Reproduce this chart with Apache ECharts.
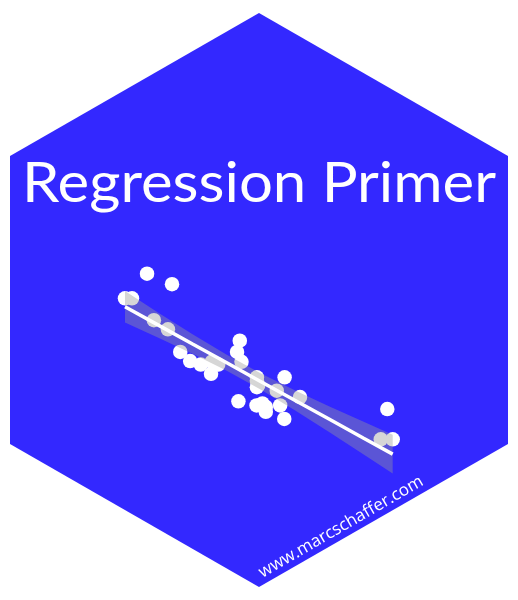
<!DOCTYPE html>
<html style="height: 100%">
<head>
    <meta charset="utf-8">
    <script src="https://cdn.jsdelivr.net/npm/echarts@6/dist/echarts.min.js"></script>
</head>
<body style="height: 100%; margin: 0; background-color: #fff;">
<div id="container" style="width: 518px; height: 600px;"></div>
<script type="text/javascript">
// mtcars: weight (1000 lbs) vs miles per gallon
var wt  = [2.620, 2.875, 2.320, 3.215, 3.440, 3.460, 3.570, 3.190, 3.150, 3.440, 3.440,
           4.070, 3.730, 3.780, 5.250, 5.424, 5.345, 2.200, 1.615, 1.835, 2.465, 3.520,
           3.435, 3.840, 3.845, 1.935, 2.140, 1.513, 3.170, 2.770, 3.570, 2.780];
var mpg = [21.0, 21.0, 22.8, 21.4, 18.7, 18.1, 14.3, 24.4, 22.8, 19.2, 17.8,
           16.4, 17.3, 15.2, 10.4, 10.4, 14.7, 32.4, 30.4, 33.9, 21.5, 15.5,
           15.2, 13.3, 19.2, 27.3, 26.0, 30.4, 15.8, 19.7, 15.0, 21.4];

// lm fit with 95% band
var fitX    = [1.513, 2.0, 2.5, 3.0, 3.5, 4.0, 4.5, 5.0, 5.424];
var fitY    = [29.20, 26.60, 23.92, 21.25, 18.58, 15.91, 13.24, 10.56, 8.30];
var fitLow  = [26.96, 24.82, 22.55, 20.12, 17.43, 14.49, 11.40, 8.25, 5.55];
var fitHigh = [31.43, 28.37, 25.30, 22.38, 19.73, 17.32, 15.07, 12.88, 11.05];

var hexColor = '#3328ff';

var chart = echarts.init(document.getElementById('container'));

var points = wt.map(function (w, i) { return [w, mpg[i]]; });
var line = fitX.map(function (x, i) { return [x, fitY[i]]; });
var band = fitX.map(function (x, i) { return [x, fitLow[i], fitHigh[i]]; });

var option = {
    animation: false,
    graphic: [{
        type: 'polygon',
        z: -10,
        shape: { points: [[259, 13], [508, 156], [508, 444], [259, 587], [10, 444], [10, 156]] },
        style: { fill: hexColor }
    }, {
        type: 'text',
        x: 259, y: 184,
        scaleX: 1.07,
        style: {
            text: 'Regression Primer',
            fill: '#fff',
            font: '400 56px Lato',
            align: 'center',
            verticalAlign: 'middle'
        }
    }, {
        type: 'text',
        x: 341, y: 527,
        rotation: Math.PI / 6,
        style: {
            text: 'www.marcschaffer.com',
            fill: '#fff',
            font: '400 17px "Open Sans"',
            align: 'center',
            verticalAlign: 'middle'
        }
    }],
    grid: { left: 124.1, width: 273.8, top: 265.9, height: 211.5 },
    xAxis: { type: 'value', min: 1.5, max: 5.5, show: false },
    yAxis: { type: 'value', min: 5, max: 35, show: false },
    series: [{
        type: 'scatter',
        data: points,
        symbolSize: 14.5,
        itemStyle: { color: '#fff', opacity: 1 },
        z: 2
    }, {
        type: 'custom',
        data: band,
        z: 3,
        renderItem: function (params, api) {
            if (params.dataIndex !== 0) return;
            var top = [], bottom = [];
            for (var i = 0; i < band.length; i++) {
                top.push(api.coord([band[i][0], band[i][2]]));
                bottom.unshift(api.coord([band[i][0], band[i][1]]));
            }
            return {
                type: 'polygon',
                shape: { points: top.concat(bottom) },
                style: { fill: 'rgba(153,153,153,0.4)' }
            };
        }
    }, {
        type: 'line',
        data: line,
        symbol: 'none',
        lineStyle: { color: '#fff', width: 3.5 },
        z: 4
    }]
};
chart.setOption(option);
</script>
</body>
</html>
